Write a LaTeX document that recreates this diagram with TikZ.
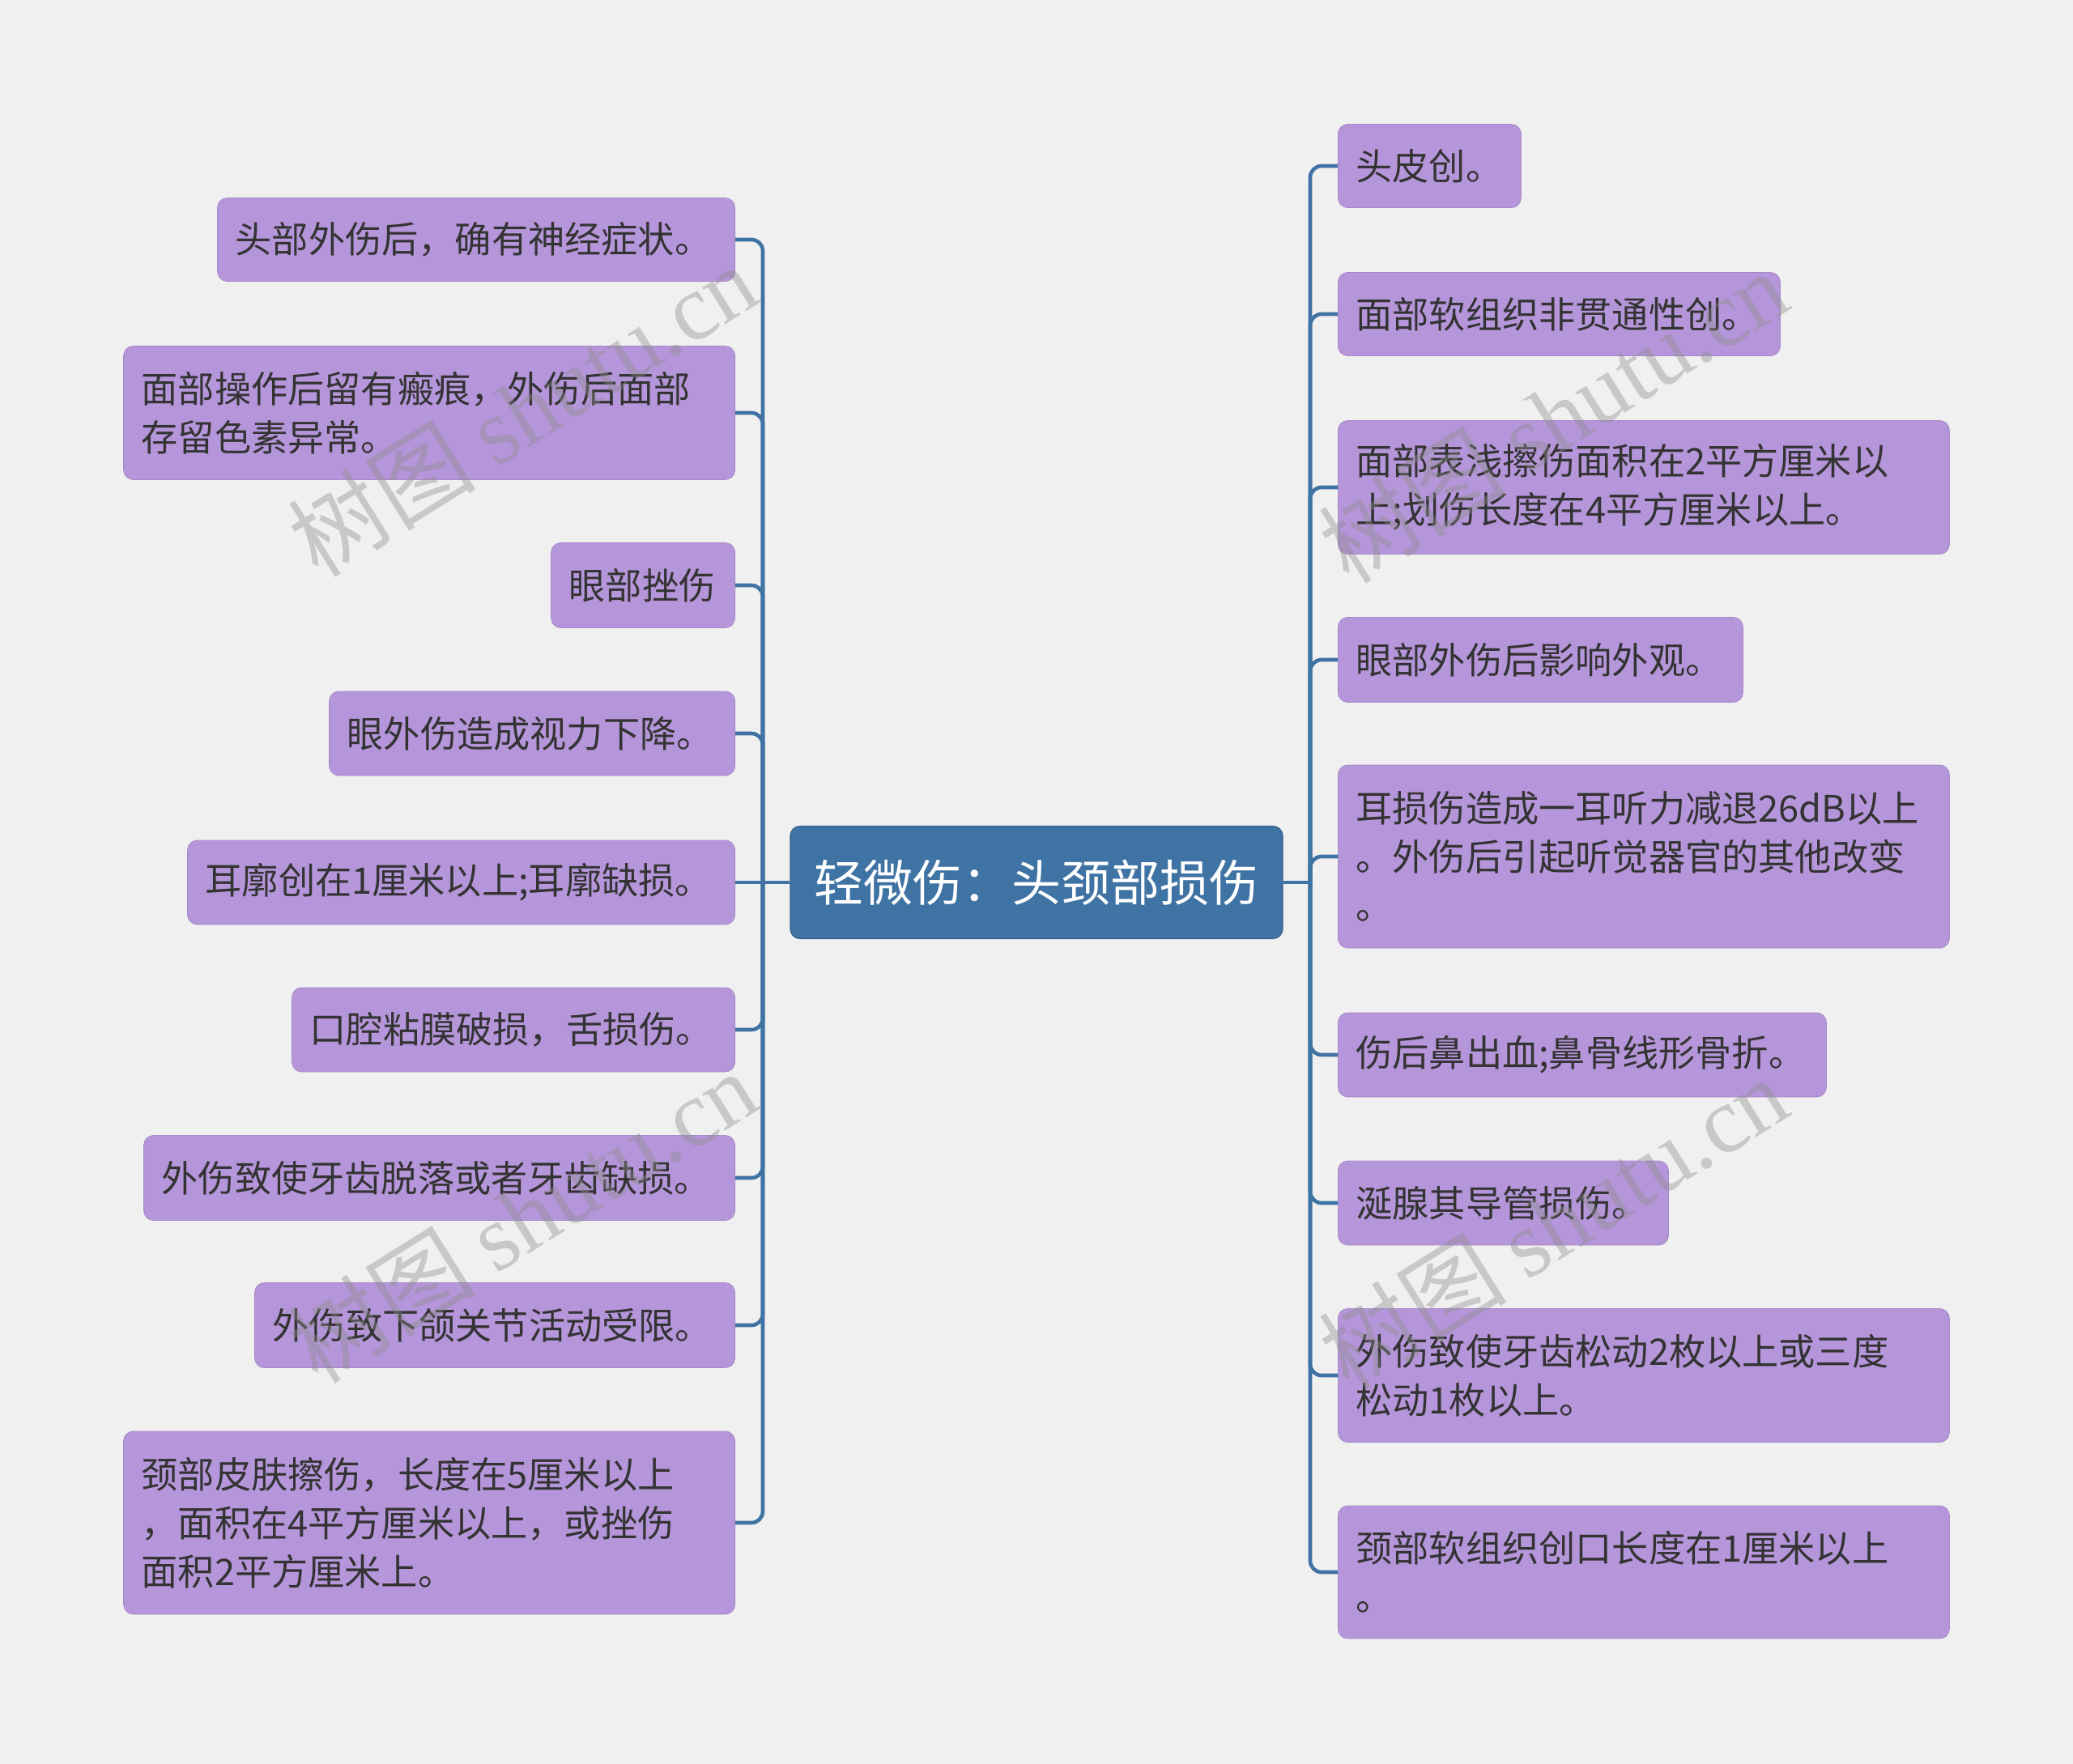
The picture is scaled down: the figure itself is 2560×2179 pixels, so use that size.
\documentclass[tikz,border=0pt]{standalone}
\usepackage{fontspec}
\setmainfont{Noto Sans CJK SC}
\newfontfamily\wmlatin{Liberation Serif}
\definecolor{bg}{HTML}{F0F0F0}
\definecolor{leaffill}{HTML}{B696DA}
\definecolor{rootfill}{HTML}{3F73A4}
\definecolor{linec}{HTML}{3F73A4}
\definecolor{txt}{HTML}{333333}
\begin{document}
\begin{tikzpicture}[x=0.5pt,y=-0.5pt,
 leaf/.style={rounded corners=6pt, fill=leaffill, draw=leaffill!92!black, line width=0.4pt, text=txt, inner xsep=11pt, inner ysep=0pt, align=left, font=\fontsize{22.6pt}{30pt}\selectfont},
 root/.style={rounded corners=6pt, fill=rootfill, draw=rootfill!85!black, line width=0.6pt, text=white, minimum width=304pt, minimum height=69.5pt, inner sep=0pt, font=\fontsize{30.5pt}{36pt}\selectfont},
 conn/.style={draw=linec, line width=2.3pt, rounded corners=7pt},
 wm/.style={text=black!45, opacity=0.4, rotate=32, inner sep=0pt, font=\fontsize{58pt}{60pt}\selectfont}
]
\useasboundingbox (0,0) rectangle (2560,2179);
\fill[bg] (0,0) rectangle (2560,2179);

\node[root] (root) at (1280,1090) {轻微伤：头颈部损伤};

% left leaves
\node[leaf, text width=297.5pt, minimum height=51.5pt, anchor=east] (l1) at (908,296) {头部外伤后，确有神经症状。};
\node[leaf, text width=355.5pt, minimum height=82.5pt, anchor=east] (l2) at (908,510) {面部操作后留有瘢痕，外伤后面部\\存留色素异常。};
\node[leaf, text width=91.5pt, minimum height=52.5pt, anchor=east] (l3) at (908,723) {眼部挫伤};
\node[leaf, text width=228.5pt, minimum height=52pt, anchor=east] (l4) at (908,906) {眼外伤造成视力下降。};
\node[leaf, text width=316pt, minimum height=52pt, anchor=east] (l5) at (908,1090) {耳廓创在1厘米以上;耳廓缺损。};
\node[leaf, text width=251.5pt, minimum height=52pt, anchor=east] (l6) at (908,1272) {口腔粘膜破损，舌损伤。};
\node[leaf, text width=343pt, minimum height=52.5pt, anchor=east] (l7) at (908,1455) {外伤致使牙齿脱落或者牙齿缺损。};
\node[leaf, text width=274.5pt, minimum height=52.5pt, anchor=east] (l8) at (908,1637) {外伤致下颌关节活动受限。};
\node[leaf, text width=355.5pt, minimum height=113pt, anchor=east] (l9) at (908,1881) {颈部皮肤擦伤，长度在5厘米以上\\，面积在4平方厘米以上，或挫伤\\面积2平方厘米上。};

% right leaves
\node[leaf, text width=91pt, minimum height=51.5pt, anchor=west] (r1) at (1652,205) {头皮创。};
\node[leaf, text width=251pt, minimum height=51.5pt, anchor=west] (r2) at (1652,388) {面部软组织非贯通性创。};
\node[leaf, text width=355.5pt, minimum height=82.5pt, anchor=west] (r3) at (1652,602) {面部表浅擦伤面积在2平方厘米以\\上;划伤长度在4平方厘米以上。};
\node[leaf, text width=228pt, minimum height=52.5pt, anchor=west] (r4) at (1652,815) {眼部外伤后影响外观。};
\node[leaf, text width=355.5pt, minimum height=113pt, anchor=west] (r5) at (1652,1058) {耳损伤造成一耳听力减退26dB以上\\。外伤后引起听觉器官的其他改变\\。};
\node[leaf, text width=279.5pt, minimum height=52pt, anchor=west] (r6) at (1652,1303) {伤后鼻出血;鼻骨线形骨折。};
\node[leaf, text width=182pt, minimum height=52pt, anchor=west] (r7) at (1652,1486) {涎腺其导管损伤。};
\node[leaf, text width=355.5pt, minimum height=82.5pt, anchor=west] (r8) at (1652,1699) {外伤致使牙齿松动2枚以上或三度\\松动1枚以上。};
\node[leaf, text width=355.5pt, minimum height=82pt, anchor=west] (r9) at (1652,1942) {颈部软组织创口长度在1厘米以上\\。};

% connectors
\coordinate (tl) at (942,1090);
\coordinate (tr) at (1618,1090);
\draw[conn] (root.west) -- (tl);
\draw[conn] (root.east) -- (tr);
\foreach \n in {l1,l2,l3,l4,l6,l7,l8,l9} \draw[conn] (tl) |- (\n.east);
\draw[conn] (tl) -- (l5.east);
\foreach \n in {r1,r2,r3,r4,r5,r6,r7,r8,r9} \draw[conn] (tr) |- (\n.west);

% watermarks
\node[wm] (w1) at (645,506) {树图 {\wmlatin shutu.cn}};
\node[wm] (w2) at (645,1502) {树图 {\wmlatin shutu.cn}};
\node[wm] (w3) at (1918,514) {树图 {\wmlatin shutu.cn}};
\node[wm] (w4) at (1918,1510) {树图 {\wmlatin shutu.cn}};
\end{tikzpicture}
\end{document}
